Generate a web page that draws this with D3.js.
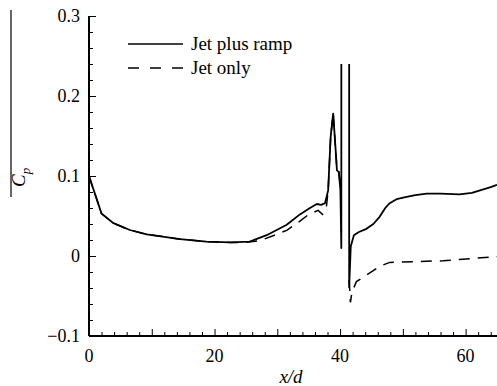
<!DOCTYPE html>
<html>
<head>
<meta charset="utf-8">
<script src="https://cdn.jsdelivr.net/npm/d3@7"></script>
<style>
  html, body { margin: 0; padding: 0; background: #fff; }
  svg { display: block; }
</style>
</head>
<body>
<div id="chart"></div>
<script>
// jet plus ramp (solid) — null marks the break between the two vertical spikes
const rampX = [0, 2, 3.9, 6.5, 9.2, 12, 14.5, 18.7, 22.5, 25.6, 28.3, 31.5, 33.6, 35.2, 36.3, 37, 37.6, 38.1, 38.5, 38.9, 39.3, 39.5, 39.8, 40.05, 40.2, 40.2, 40.8,
  41.45, 41.45, 41.7, 42.2, 43, 44.2, 45.3, 46.3, 47.2, 47.9, 49, 50.6, 52, 53.8, 56, 59, 61, 62.3, 64, 65];
const rampCp = [0.1, 0.053, 0.041, 0.0325, 0.027, 0.024, 0.021, 0.018, 0.017, 0.018, 0.026, 0.039, 0.052, 0.06, 0.065, 0.064, 0.066, 0.082, 0.149, 0.178, 0.132, 0.107, 0.105, 0.083, 0.01, 0.24, null,
  0.24, -0.039, 0.012, 0.026, 0.03, 0.034, 0.04, 0.049, 0.06, 0.066, 0.071, 0.074, 0.076, 0.078, 0.078, 0.077, 0.079, 0.082, 0.086, 0.089];

// jet only (dashed) — hidden behind the spikes between 40.2 and 41.45
const jetX = [0, 2, 3.9, 6.5, 9.2, 12, 14.5, 18.7, 22.5, 25, 27.2, 31.5, 33.5, 35, 36.5, 37.2, 37.8, 38.1, 38.5, 38.9, 39.3, 39.5, 39.8, 40.1, 40.2, 40.8,
  41.45, 41.65, 41.9, 42.6, 44.2, 46.3, 47.9, 52, 56.4, 61.2, 65];
const jetCp = [0.1, 0.053, 0.041, 0.0325, 0.027, 0.024, 0.021, 0.018, 0.017, 0.017, 0.019, 0.032, 0.043, 0.052, 0.057, 0.052, 0.06, 0.082, 0.149, 0.178, 0.132, 0.107, 0.105, 0.083, 0.03, null,
  -0.03, -0.058, -0.045, -0.032, -0.024, -0.013, -0.008, -0.007, -0.006, -0.003, -0.001];

const xMajor = [0, 10, 20, 30, 40, 50, 60];
const xLabels = [0, 20, 40, 60];
const yMajor = [-0.1, 0, 0.1, 0.2, 0.3];
const yLabels = ['\u22120.1', '0', '0.1', '0.2', '0.3'];
const legendNames = ['Jet plus ramp', 'Jet only'];

const SERIF = '"Liberation Serif", "Times New Roman", Times, serif';
const W = 497, H = 386;
const svg = d3.select('#chart').append('svg').attr('width', W).attr('height', H);

const x = d3.scaleLinear().domain([0, 65]).range([89, 497]);
const y = d3.scaleLinear().domain([-0.1, 0.3]).range([336, 16]);

// axes: ticks point inward
const xMinor = d3.range(0, 65.01, 2).filter(v => v % 10 !== 0);
const yMinor = d3.range(-0.1, 0.3001, 0.02).filter(v => Math.abs(Math.round(v * 10) - v * 10) > 1e-6);

const gx = svg.append('g').attr('transform', 'translate(0,' + y(-0.1) + ')');
gx.call(d3.axisTop(x).tickValues(xMajor).tickSize(7).tickFormat(''));
gx.append('g').call(d3.axisTop(x).tickValues(xMinor).tickSize(4).tickFormat(''));
gx.selectAll('.domain').remove();
gx.selectAll('line').attr('stroke', '#000').attr('stroke-width', 1);

const gy = svg.append('g').attr('transform', 'translate(' + x(0) + ',0)');
gy.call(d3.axisRight(y).tickValues(yMajor).tickSize(7).tickFormat(''));
gy.append('g').call(d3.axisRight(y).tickValues(yMinor).tickSize(4).tickFormat(''));
gy.selectAll('.domain').remove();
gy.selectAll('line').attr('stroke', '#000').attr('stroke-width', 1);

// tick labels
svg.append('g').selectAll('text').data(xLabels).enter().append('text')
  .attr('x', d => x(d)).attr('y', 362)
  .attr('text-anchor', 'middle')
  .attr('fill', '#000')
  .style('font-family', SERIF)
  .style('font-size', '18px')
  .text(d => d);

svg.append('g').selectAll('text').data(yMajor).enter().append('text')
  .attr('x', 80).attr('y', d => y(d) + 6)
  .attr('text-anchor', 'end')
  .attr('fill', '#000')
  .style('font-family', SERIF)
  .style('font-size', '18px')
  .text((d, i) => yLabels[i]);

// axis lines
svg.append('line').attr('x1', x(0)).attr('x2', x(0)).attr('y1', y(0.3)).attr('y2', y(-0.1))
  .attr('stroke', '#000').attr('stroke-width', 2);
svg.append('line').attr('x1', x(0)).attr('x2', W).attr('y1', y(-0.1)).attr('y2', y(-0.1))
  .attr('stroke', '#000').attr('stroke-width', 2);

// axis titles
svg.append('text')
  .attr('x', 291).attr('y', 383)
  .attr('text-anchor', 'middle')
  .attr('fill', '#000')
  .style('font-family', SERIF)
  .style('font-size', '19px').style('font-style', 'italic')
  .text('x/d');

svg.append('line').attr('x1', 11).attr('x2', 11).attr('y1', 10).attr('y2', 197)
  .attr('stroke', '#000').attr('stroke-width', 1.2);
const cp = svg.append('text')
  .attr('transform', 'translate(25,187) rotate(-90)')
  .attr('fill', '#000')
  .style('font-family', SERIF)
  .style('font-size', '19px').style('font-style', 'italic');
cp.append('tspan').text('C');
cp.append('tspan').attr('dy', 5).style('font-size', '13px').text('p');

// curves
const rampData = rampX.map((v, i) => ({ x: v, cp: rampCp[i] }));
const jetData = jetX.map((v, i) => ({ x: v, cp: jetCp[i] }));

const line = d3.line()
  .defined(d => d.cp !== null)
  .x(d => x(d.x))
  .y(d => y(d.cp));

svg.append('path').datum(jetData)
  .attr('fill', 'none').attr('stroke', '#000').attr('stroke-width', 1.5)
  .attr('stroke-dasharray', '11,8')
  .attr('d', line);

svg.append('path').datum(rampData)
  .attr('fill', 'none').attr('stroke', '#000').attr('stroke-width', 1.8)
  .attr('stroke-linejoin', 'round')
  .attr('d', line);

// legend
const rows = svg.append('g').selectAll('g').data(legendNames).enter().append('g')
  .attr('transform', (d, i) => 'translate(0,' + (44 + i * 24) + ')');
rows.append('line')
  .attr('x1', 128).attr('x2', 183).attr('y1', 0).attr('y2', 0)
  .attr('stroke', '#000').attr('stroke-width', 1.6)
  .attr('stroke-dasharray', (d, i) => i === 0 ? null : '11,11');
rows.append('text')
  .attr('x', 191).attr('y', 6)
  .attr('fill', '#000')
  .style('font-family', SERIF)
  .style('font-size', '19px')
  .text(d => d);
</script>
</body>
</html>
